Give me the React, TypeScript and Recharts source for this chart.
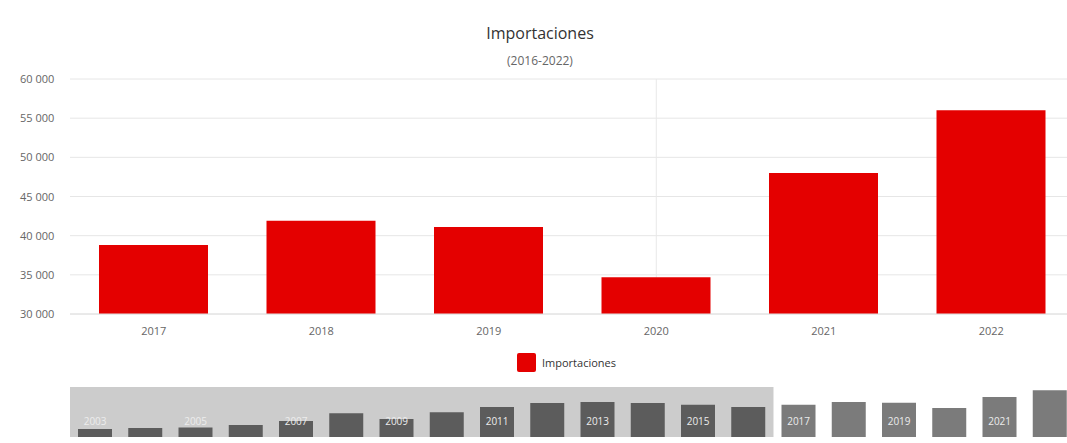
import React from "react";
import { BarChart, Bar, XAxis, YAxis, CartesianGrid, ReferenceLine, ReferenceArea, Cell } from "recharts";

const years = ["2017", "2018", "2019", "2020", "2021", "2022"];
const imports = [38800, 41900, 41100, 34700, 48000, 56000];
const yTicks = [30000, 35000, 40000, 45000, 50000, 55000, 60000];

const navYears = ["2003", "2004", "2005", "2006", "2007", "2008", "2009", "2010", "2011", "2012", "2013", "2014", "2015", "2016", "2017", "2018", "2019", "2020", "2021", "2022"];
const navValues = [9600, 10800, 11300, 14500, 19300, 28500, 21500, 29800, 36100, 40800, 42000, 40800, 38600, 36100, 38800, 41900, 41100, 34700, 48000, 56000];

const mainData = years.map((y, i) => ({ year: y, value: imports[i] }));
const navData = navYears.map((y, i) => ({ year: y, value: navValues[i] }));

const FONT = "'Open Sans', 'DejaVu Sans', sans-serif";
const RED = "#e40000";

const fmt = (v: number) => {
  const s = String(Math.round(v));
  return s.replace(/\B(?=(\d{3})+(?!\d))/g, " ");
};

const YTick = (props: any) => {
  const { y, payload } = props;
  return (
    <text x={20} y={y} dy={4} textAnchor="start" fontSize={11} fill="#666" fontFamily={FONT}>
      {fmt(payload.value)}
    </text>
  );
};

const NavTick = (props: any) => {
  const { x, payload, index } = props;
  if (index % 2 === 1) return null;
  return (
    <text x={x} y={41} dy={4} textAnchor="middle" fontSize={10} fill="#ececec" fontFamily={FONT}>
      {payload.value}
    </text>
  );
};

export default function App() {
  const selStart = years[0];
  return (
    <div style={{ position: "absolute", left: 0, top: 0, width: 1080, height: 443, fontFamily: FONT, background: "#fff", overflow: "hidden" }}>
      <div style={{ position: "absolute", left: 0, top: 22, width: 1080, textAlign: "center", fontSize: 16, color: "#333" }}>
        Importaciones
      </div>
      <div style={{ position: "absolute", left: 0, top: 52, width: 1080, textAlign: "center", fontSize: 12, color: "#666" }}>
        (2016-2022)
      </div>
      <div style={{ position: "absolute", left: 0, top: 0 }}>
        <BarChart width={1080} height={345} data={mainData} margin={{ top: 79, right: 5, left: 0, bottom: 0 }}>
          <CartesianGrid vertical={false} stroke="#e6e6e6" />
          <ReferenceLine x="2020" stroke="#e8e8e8" zIndex={-50} />
          <XAxis
            dataKey="year"
            height={31}
            tickLine={false}
            axisLine={{ stroke: "#e0e0e0" }}
            tickMargin={7}
            tick={{ fontSize: 11, fill: "#666", fontFamily: FONT }}
          />
          <YAxis
            width={70}
            domain={[30000, 60000]}
            ticks={yTicks}
            axisLine={false}
            tickLine={false}
            tick={<YTick />}
            allowDataOverflow
          />
          <Bar dataKey="value" name="Importaciones" fill={RED} barSize={109} isAnimationActive={false} />
        </BarChart>
      </div>
      <div style={{ position: "absolute", left: 517, top: 353, display: "flex", alignItems: "center" }}>
        <div style={{ width: 19, height: 19, background: RED, borderRadius: 2, marginRight: 6 }} />
        <span style={{ fontSize: 11, color: "#333" }}>Importaciones</span>
      </div>
      <div style={{ position: "absolute", left: 0, top: 380 }}>
        <BarChart width={1080} height={58} data={navData} margin={{ top: 7, right: 5, left: 70, bottom: 0 }}>
          <XAxis dataKey="year" height={1} interval={0} axisLine={false} tickLine={false} tick={<NavTick />} />
          <YAxis hide domain={[0, 60000]} allowDataOverflow />
          <ReferenceArea x1={navYears[0]} x2="2016" fill="#000" fillOpacity={0.2} stroke="none" />
          <Bar dataKey="value" barSize={34} isAnimationActive={false}>
            {navData.map((d) => (
              <Cell key={d.year} fill={Number(d.year) >= Number(selStart) ? "#7b7b7b" : "#5c5c5c"} />
            ))}
          </Bar>
        </BarChart>
      </div>
    </div>
  );
}
